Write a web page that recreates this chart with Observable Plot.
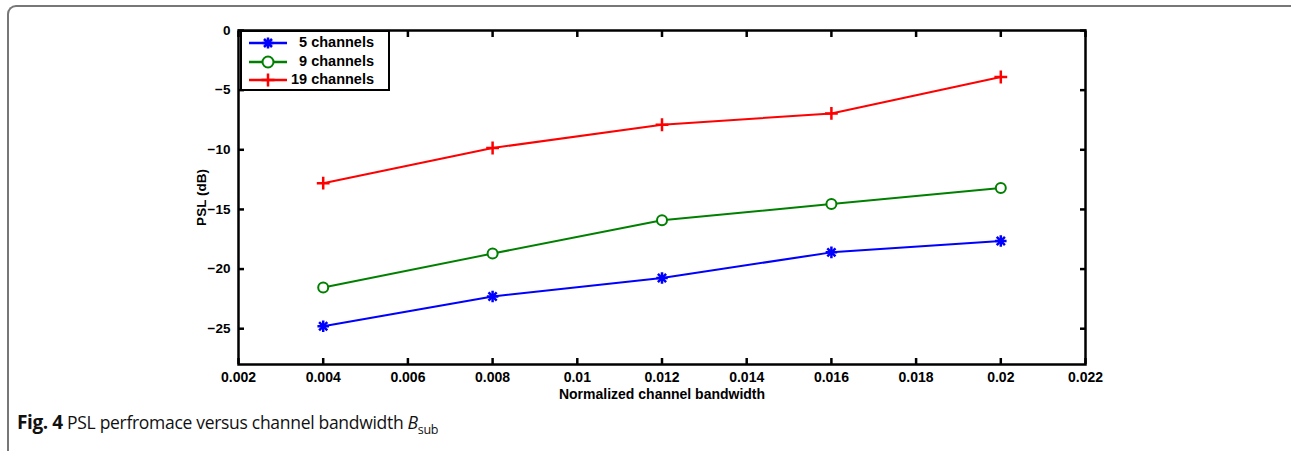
<!DOCTYPE html>
<html>
<head>
<meta charset="utf-8">
<script src="https://cdn.jsdelivr.net/npm/d3@7"></script>
<script src="https://cdn.jsdelivr.net/npm/@observablehq/plot@0.6"></script>
<style>
  html, body { margin: 0; padding: 0; background: #fff; }
  #wrap { position: relative; width: 1291px; height: 451px; overflow: hidden; }
  #frame { position: absolute; left: 7px; top: 5px; width: 1300px; height: 460px;
           border-left: 2px solid #777; border-top: 2px solid #777; border-top-left-radius: 9px; box-sizing: border-box; }
  #chart { position: absolute; left: 0; top: 0; }
  #legend { position: absolute; left: 240px; top: 30px; width: 150px; height: 61px; box-sizing: border-box;
            border: 2.5px solid #000; background: #fff; font: bold 14.5px "Liberation Sans", Arial, sans-serif; }
  #legend .row { position: absolute; left: 0; width: 100%; height: 18px; }
  #legend svg { position: absolute; left: 5px; top: 0; }
  #legend span { position: absolute; right: 14px; top: 0px; }
  #caption { position: absolute; left: 17px; top: 409px; font: 17.5px "Open Sans", sans-serif; color: #111; letter-spacing: -0.3px; white-space: nowrap; }
  #caption b { font-weight: 700; font-size: 19px; letter-spacing: -0.4px; }
</style>
</head>
<body>
<div id="wrap">
  <div id="frame"></div>
  <div id="chart"></div>
  <div id="legend"></div>
  <div id="caption"><b>Fig. 4</b> PSL perfromace versus channel bandwidth <i>B</i><sub style="font-size:12.5px">sub</sub></div>
</div>
<script>
const bandwidth = [0.004, 0.008, 0.012, 0.016, 0.02];
const psl5  = [-24.8, -22.3, -20.75, -18.6, -17.65];
const psl9  = [-21.55, -18.7, -15.9, -14.55, -13.2];
const psl19 = [-12.8, -9.85, -7.9, -6.95, -3.9];
const seriesNames = ["5 channels", "9 channels", "19 channels"];
const seriesColors = ["#0000ff", "#008000", "#ff0000"];
const xTicks = [0.002, 0.004, 0.006, 0.008, 0.01, 0.012, 0.014, 0.016, 0.018, 0.02, 0.022];
const yTicks = [0, -5, -10, -15, -20, -25];

const rows = (vals, name) => bandwidth.map((b, i) => ({b, v: vals[i], s: name}));
const d5 = rows(psl5, seriesNames[0]);
const d9 = rows(psl9, seriesNames[1]);
const d19 = rows(psl19, seriesNames[2]);

const fmtY = d3.format("");
const chart = Plot.plot({
  width: 1291,
  height: 400,
  marginLeft: 238,
  marginRight: 206,
  marginTop: 30,
  marginBottom: 36,
  style: {fontFamily: "'Liberation Sans', Arial, sans-serif", fontSize: "12.5px", fontWeight: "bold", color: "#000", background: "transparent"},
  x: {domain: [0.002, 0.022]},
  y: {domain: [-28, 0]},
  marks: [
    Plot.axisX({anchor: "bottom", ticks: xTicks, tickFormat: d => String(d), tickSize: -6, tickPadding: 14, strokeWidth: 2.5, label: "Normalized channel bandwidth", labelArrow: "none", labelAnchor: "center", labelOffset: 34, fontSize: 14}),
    Plot.axisX({anchor: "top", ticks: xTicks, tickFormat: () => "", tickSize: -6, strokeWidth: 2.5, label: null}),
    Plot.axisY({anchor: "left", ticks: yTicks, tickFormat: fmtY, tickSize: -6, tickPadding: 14, strokeWidth: 2.5, label: "PSL (dB)", labelAnchor: "center", labelOffset: 42, labelArrow: "none", fontSize: 13.5}),
    Plot.axisY({anchor: "right", ticks: yTicks, tickFormat: () => "", tickSize: -6, strokeWidth: 2.5, label: null}),
    Plot.frame({stroke: "#000", strokeWidth: 2.5}),
    Plot.line(d5, {x: "b", y: "v", stroke: seriesColors[0], strokeWidth: 2}),
    Plot.line(d9, {x: "b", y: "v", stroke: seriesColors[1], strokeWidth: 2}),
    Plot.line(d19, {x: "b", y: "v", stroke: seriesColors[2], strokeWidth: 2}),
    Plot.dot(d5, {x: "b", y: "v", symbol: "plus", r: 3.8, stroke: seriesColors[0], strokeWidth: 2.5}),
    Plot.dot(d5, {x: "b", y: "v", symbol: "times", r: 3.8, stroke: seriesColors[0], strokeWidth: 2.5}),
    Plot.dot(d9, {x: "b", y: "v", symbol: "circle", r: 5, stroke: seriesColors[1], fill: "white", strokeWidth: 2}),
    Plot.dot(d19, {x: "b", y: "v", symbol: "plus", r: 4.2, stroke: seriesColors[2], strokeWidth: 2.5})
  ]
});
document.getElementById("chart").appendChild(chart);

// legend
const legend = document.getElementById("legend");
const markers = [
  `<path d="M21,3.5 v11 M15.5,9 h11 M17,5 l8,8 M25,5 l-8,8" stroke="#0000ff" stroke-width="2.5" fill="none"/>`,
  `<circle cx="21" cy="9" r="5.5" stroke="#008000" stroke-width="2" fill="white"/>`,
  `<path d="M21,2.5 v13 M14.5,9 h13" stroke="#ff0000" stroke-width="2.5" fill="none"/>`
];
seriesNames.forEach((name, i) => {
  const row = document.createElement("div");
  row.className = "row";
  row.style.top = (2 + i * 18.5) + "px";
  row.innerHTML = `<svg width="50" height="18"><line x1="2" x2="40" y1="9" y2="9" stroke="${seriesColors[i]}" stroke-width="2.5"/>${markers[i]}</svg><span>${name}</span>`;
  legend.appendChild(row);
});
</script>
</body>
</html>
